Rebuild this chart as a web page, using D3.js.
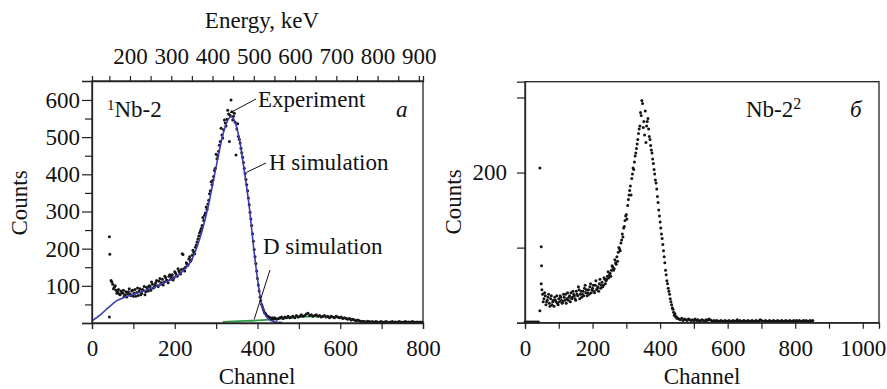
<!DOCTYPE html>
<html>
<head>
<meta charset="utf-8">
<script src="https://cdnjs.cloudflare.com/ajax/libs/d3/7.8.5/d3.min.js"></script>
<style>
  body { margin: 0; background: #fff; }
  svg text { font-family: "Liberation Serif", "Times New Roman", Times, serif; fill: #111; }
</style>
</head>
<body>
<div id="chart"></div>
<script>
// panel a: measured counts, channels 46..798 step 4
const leftChannels = d3.range(46, 800, 4);
const leftCounts = [114, 104, 96, 88, 84, 78, 86, 80, 72, 84, 79, 92, 74, 88, 80, 72, 94, 86, 76, 90,
  98, 84, 94, 100, 88, 104, 96, 108, 100, 112, 104, 118, 110, 122, 114, 126, 118, 130, 122, 134,
  126, 140, 132, 186, 146, 150, 158, 172, 166, 182, 190, 204, 218, 234, 248, 262, 276, 296, 306, 330,
  356, 372, 394, 416, 442, 462, 488, 506, 520, 538, 548, 562, 558, 568, 556, 540, 522, 502, 484, 458,
  432, 402, 372, 336, 298, 262, 220, 178, 140, 102, 70, 50, 36, 26, 20, 16, 14, 12, 10, 14,
  10, 12, 14, 16, 12, 16, 14, 18, 14, 16, 18, 14, 20, 16, 18, 22, 18, 20, 24, 26,
  20, 22, 18, 20, 22, 18, 20, 16, 18, 20, 16, 18, 14, 18, 16, 14, 18, 16, 14, 16,
  12, 14, 12, 10, 12, 8, 10, 8, 6, 8, 6, 4, 5, 4, 3, 5, 4, 3, 4, 2,
  4, 3, 2, 4, 3, 2, 4, 3, 2, 3, 4, 2, 3, 2, 4, 3, 2, 3, 4, 2,
  3, 2, 4, 3, 2, 3, 2, 3, 2];
// second scan of the same region, channels 48..440 step 4
const leftExtraChannels = d3.range(48, 444, 4);
const leftExtraCounts = [110, 92, 100, 80, 90, 76, 82, 88, 76, 70, 84, 78, 86, 72, 90, 82, 74, 92, 80, 88,
  76, 96, 86, 98, 110, 94, 102, 114, 98, 120, 108, 102, 126, 116, 108, 130, 124, 116, 138, 128,
  146, 136, 144, 184, 140, 162, 156, 178, 170, 196, 186, 210, 226, 242, 254, 284, 290, 312, 320, 348,
  380, 384, 410, 454, 450, 478, 524, 498, 546, 530, 572, 488, 600, 546, 564, 452, 536, 494, 470, 446,
  416, 386, 356, 318, 280, 240, 198, 160, 120, 86, 60, 44, 30, 24, 18, 16, 12, 14, 12];
const leftOutChannels = [42, 43, 42];
const leftOutCounts = [232, 185, 16];

// simulations
const hSimChannels = [0, 20, 40, 60, 80, 100, 120, 140, 160, 180, 200, 220, 240, 260, 280, 300, 316, 328, 336, 344, 356, 368, 380, 392, 400, 412, 424, 440, 460];
const hSimCounts = [6, 22, 42, 60, 70, 77, 84, 92, 101, 111, 123, 140, 168, 225, 310, 420, 505, 545, 555, 545, 495, 410, 313, 190, 118, 40, 14, 3, 1];
const dSimChannels = [316, 360, 400, 440, 470, 500, 530, 560, 600, 630, 650, 680];
const dSimCounts = [3, 5, 7, 10, 13, 16, 18, 17, 15, 10, 5, 2];

// panel b: channels 0..852 step 4
const rightChannels = d3.range(0, 856, 4);
const rightCounts = [1, 1, 1, 1, 1, 1, 1, 1, 1, 1, 1, 16, 52, 38, 32, 36, 28, 34, 26, 32,
  24, 30, 34, 28, 26, 32, 36, 30, 28, 34, 38, 32, 30, 36, 40, 34, 38, 32, 42, 36,
  44, 38, 34, 42, 46, 40, 36, 44, 48, 40, 46, 42, 50, 44, 48, 52, 46, 54, 50, 58,
  56, 62, 60, 66, 70, 74, 72, 80, 88, 94, 98, 106, 118, 126, 136, 144, 156, 170, 182, 192,
  206, 214, 226, 238, 252, 262, 276, 292, 268, 282, 262, 272, 248, 236, 226, 212, 198, 186, 168, 150,
  134, 118, 104, 88, 70, 56, 46, 38, 28, 20, 14, 12, 8, 6, 5, 4, 6, 3, 5, 4,
  3, 5, 4, 3, 4, 3, 5, 3, 4, 2, 3, 4, 3, 2, 4, 3, 5, 4, 3, 2,
  3, 2, 3, 2, 2, 3, 2, 2, 3, 2, 2, 3, 2, 2, 3, 2, 2, 4, 2, 3,
  2, 2, 3, 2, 2, 3, 2, 2, 3, 2, 2, 3, 2, 2, 4, 3, 2, 2, 3, 2,
  2, 3, 2, 2, 3, 2, 2, 3, 2, 2, 3, 2, 2, 3, 2, 2, 3, 2, 2, 3,
  2, 3, 2, 3, 2, 2, 3, 2, 3, 2, 2, 3, 2, 3];
const rightExtraChannels = d3.range(50, 454, 4);
const rightExtraCounts = [44, 28, 40, 24, 30, 38, 22, 36, 28, 22, 30, 36, 24, 28, 34, 26, 38, 30, 26, 40,
  34, 28, 32, 42, 36, 30, 38, 48, 32, 42, 38, 36, 50, 44, 40, 38, 52, 44, 50, 40,
  56, 46, 42, 58, 50, 48, 60, 52, 58, 68, 64, 62, 76, 70, 84, 78, 82, 100, 96, 110,
  114, 128, 142, 138, 164, 176, 170, 198, 204, 222, 232, 244, 258, 280, 296, 260, 250, 240, 268, 258,
  244, 230, 218, 204, 190, 178, 160, 142, 126, 112, 96, 80, 64, 52, 42, 32, 24, 18, 10, 8, 6];
const rightOutChannels = [44, 48, 49];
const rightOutCounts = [206, 101, 76];

// tick values
const leftYTicks = [0, 100, 200, 300, 400, 500, 600];
const leftYMinor = [50, 150, 250, 350, 450, 550];
const leftXTicks = [0, 100, 200, 300, 400, 500, 600, 700, 800];
const energyTicks = [150, 200, 250, 300, 350, 400, 450, 500, 550, 600, 650, 700, 750, 800, 850, 900];
const rightXTicks = [0, 100, 200, 300, 400, 500, 600, 700, 800, 900, 1000];
const rightYTicks = [0, 100, 200, 300];

const W = 887, H = 389;
const serif = '"Liberation Serif", "Times New Roman", Times, serif';
const svg = d3.select('#chart').append('svg')
  .attr('width', W).attr('height', H)
  .attr('font-family', serif);

function pts(chs, cs) {
  return cs.map((c, i) => ({ ch: chs[i], c: c })).filter(d => d.ch !== undefined);
}

function styleAxis(g) {
  g.attr('font-family', serif);
  g.selectAll('path').attr('stroke', '#222').attr('stroke-width', 1.3);
  g.selectAll('line').attr('stroke', '#222').attr('stroke-width', 1.2);
  g.selectAll('text').attr('font-size', 23).attr('fill', '#111');
}

function drawDots(g, x, y, data) {
  g.selectAll(null).data(data).enter().append('circle')
    .attr('cx', d => x(d.ch)).attr('cy', d => y(d.c))
    .attr('r', 1.5).attr('fill', '#151515');
}

// ---------- panel a ----------
let xA = d3.scaleLinear().domain([0, 800]).range([92, 423]);
let yA = d3.scaleLinear().domain([0, 651]).range([323, 81]);
let eA = d3.scaleLinear().domain([108, 910]).range([92, 423]);

let gA = svg.append('g');

// simulation lines
let line = (x, y) => d3.line().x(d => x(d.ch)).y(d => y(d.c)).curve(d3.curveMonotoneX);

gA.append('path').datum(pts(dSimChannels, dSimCounts))
  .attr('d', line(xA, yA)).attr('fill', 'none')
  .attr('stroke', '#2f9a45').attr('stroke-width', 1.8);

drawDots(gA, xA, yA, pts(leftChannels, leftCounts));
drawDots(gA, xA, yA, pts(leftExtraChannels, leftExtraCounts));
drawDots(gA, xA, yA, pts(leftOutChannels, leftOutCounts));

gA.append('path').datum(pts(hSimChannels, hSimCounts))
  .attr('d', line(xA, yA)).attr('fill', 'none')
  .attr('stroke', '#3c3cae').attr('stroke-width', 1.6);

// frame
gA.append('rect').attr('x', 92).attr('y', 81).attr('width', 331).attr('height', 242)
  .attr('fill', 'none').attr('stroke', '#222').attr('stroke-width', 1.3);

gA.append('g').attr('transform', 'translate(92,0)')
  .call(d3.axisLeft(yA).tickValues(leftYMinor).tickSize(7).tickFormat(''))
  .call(styleAxis).select('.domain').remove();
gA.append('g').attr('transform', 'translate(92,0)')
  .call(d3.axisLeft(yA).tickValues(leftYTicks).tickSize(10).tickPadding(2)
    .tickFormat(d => d === 0 ? '' : d))
  .call(styleAxis);
gA.append('g').attr('transform', 'translate(0,323)')
  .call(d3.axisBottom(xA).tickValues(leftXTicks).tickSize(6).tickPadding(11)
    .tickFormat(d => d % 200 === 0 ? d : ''))
  .call(styleAxis);
gA.append('g').attr('transform', 'translate(0,81)')
  .call(d3.axisTop(eA).tickValues(energyTicks).tickSize(5).tickPadding(12.5)
    .tickFormat(d => d % 100 === 0 ? d : ''))
  .call(styleAxis);

gA.append('text').attr('x', 262).attr('y', 28).attr('text-anchor', 'middle')
  .attr('font-size', 23).text('Energy, keV');
gA.append('text').attr('x', 257).attr('y', 384).attr('text-anchor', 'middle')
  .attr('font-size', 23).text('Channel');
gA.append('text').attr('transform', 'translate(27,203) rotate(-90)')
  .attr('text-anchor', 'middle').attr('font-size', 23).text('Counts');

// labels inside panel a
let tA = gA.append('text').attr('x', 107).attr('y', 117).attr('font-size', 23);
tA.append('tspan').attr('font-size', 15).attr('dy', -7).text('1');
tA.append('tspan').attr('dy', 7).text('Nb-2');
gA.append('text').attr('x', 396).attr('y', 117).attr('font-size', 23)
  .attr('font-style', 'italic').text('а');

gA.append('text').attr('x', 258).attr('y', 107).attr('font-size', 23).text('Experiment');
gA.append('line').attr('x1', xA(333)).attr('y1', yA(565)).attr('x2', 256).attr('y2', 99)
  .attr('stroke', '#111').attr('stroke-width', 1);
gA.append('text').attr('x', 269).attr('y', 170).attr('font-size', 23).text('H simulation');
gA.append('line').attr('x1', xA(373)).attr('y1', yA(405)).attr('x2', 266).attr('y2', 163)
  .attr('stroke', '#111').attr('stroke-width', 1);
gA.append('text').attr('x', 263).attr('y', 254).attr('font-size', 23).text('D simulation');
gA.append('line').attr('x1', xA(392)).attr('y1', yA(10)).attr('x2', 270).attr('y2', 270)
  .attr('stroke', '#111').attr('stroke-width', 1);

// ---------- panel b ----------
let xB = d3.scaleLinear().domain([0, 1048]).range([525, 879]);
let yB = d3.scaleLinear().domain([0, 321]).range([322.7, 81.7]);

let gB = svg.append('g');

drawDots(gB, xB, yB, pts(rightChannels, rightCounts));
drawDots(gB, xB, yB, pts(rightExtraChannels, rightExtraCounts));
drawDots(gB, xB, yB, pts(rightOutChannels, rightOutCounts));

gB.append('rect').attr('x', 525).attr('y', 81.7).attr('width', 354).attr('height', 241)
  .attr('fill', 'none').attr('stroke', '#222').attr('stroke-width', 1.3);

gB.append('g').attr('transform', 'translate(525,0)')
  .call(d3.axisLeft(yB).tickValues(rightYTicks).tickSize(8).tickPadding(10)
    .tickFormat(d => d === 200 ? d : ''))
  .call(styleAxis);
gB.append('g').attr('transform', 'translate(0,322.7)')
  .call(d3.axisBottom(xB).tickValues(rightXTicks).tickSize(6).tickPadding(11)
    .tickFormat(d => d % 200 === 0 ? d : ''))
  .call(styleAxis);

gB.append('text').attr('x', 702).attr('y', 384).attr('text-anchor', 'middle')
  .attr('font-size', 23).text('Channel');
gB.append('text').attr('transform', 'translate(461,202) rotate(-90)')
  .attr('text-anchor', 'middle').attr('font-size', 23).text('Counts');

let tB = gB.append('text').attr('x', 746).attr('y', 117).attr('font-size', 23);
tB.append('tspan').text('Nb-2');
tB.append('tspan').attr('font-size', 16).attr('dy', -8).text('2');
gB.append('text').attr('x', 850).attr('y', 117).attr('font-size', 23)
  .attr('font-style', 'italic').text('б');
</script>
</body>
</html>
